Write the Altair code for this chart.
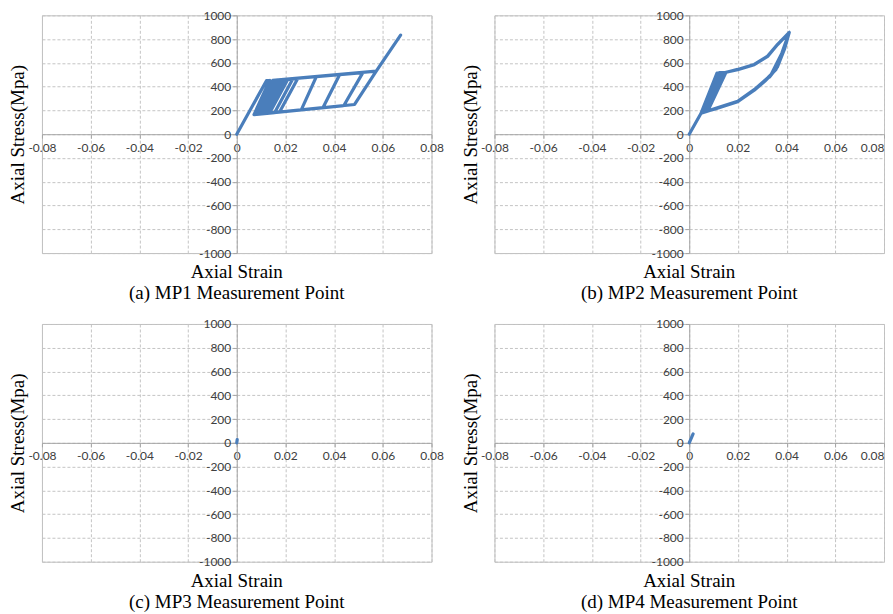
import altair as alt
import pandas as pd

# ---------------- data ----------------
x_ticks = [-0.08, -0.06, -0.04, -0.02, 0, 0.02, 0.04, 0.06, 0.08]
y_ticks = [-1000, -800, -600, -400, -200, 0, 200, 400, 600, 800, 1000]

captions = ["(a) MP1 Measurement Point", "(b) MP2 Measurement Point",
            "(c) MP3 Measurement Point", "(d) MP4 Measurement Point"]

strain_a = [0, 0.0122, 0.0135, 0.0071, 0.0148, 0.0160, 0.0084, 0.0071, 0.0148, 0.0170,
            0.0094, 0.0071, 0.0148, 0.0180, 0.0105, 0.0071, 0.0148, 0.0195, 0.0120, 0.0071,
            0.0148, 0.0210, 0.0135, 0.0071, 0.0148, 0.0230, 0.0156, 0.0071, 0.0148, 0.0250,
            0.0176, 0.0071, 0.0148, 0.0327, 0.0265, 0.0071, 0.0148, 0.0423, 0.0354, 0.0071,
            0.0148, 0.0518, 0.0440, 0.0071, 0.0148, 0.0573, 0.0484, 0.0071, 0.0484, 0.0573,
            0.0673]
stress_a = [0, 450, 452, 165, 453, 455, 168, 165, 453, 457,
            170, 165, 453, 458, 172, 165, 453, 460, 175, 165,
            453, 462, 178, 165, 453, 465, 182, 165, 453, 467,
            187, 165, 453, 484, 205, 165, 453, 502, 223, 165,
            453, 518, 241, 165, 453, 530, 250, 165, 250, 530,
            834]

strain_b = [0, 0.0048, 0.0114, 0.0151, 0.0199, 0.0267, 0.0322, 0.0363, 0.0411,
            0.0390, 0.0356, 0.0322, 0.0267, 0.0199, 0.0103, 0.0055,
            0.0124, 0.0151, 0.0199, 0.0267, 0.0322, 0.0363, 0.0411,
            0.0385, 0.0345, 0.0322, 0.0267, 0.0199, 0.0103, 0.0065,
            0.0136, 0.0153, 0.0199, 0.0267, 0.0322, 0.0363, 0.0411,
            0.0380, 0.0336, 0.0310, 0.0267, 0.0199, 0.0103, 0.0076,
            0.0151, 0.0199, 0.0267, 0.0322, 0.0363, 0.0411,
            0.0392, 0.0362, 0.0330]
stress_b = [0, 174, 515, 521, 543, 585, 655, 754, 857,
            712, 543, 473, 375, 277, 213, 180,
            518, 521, 543, 585, 655, 754, 857,
            690, 520, 470, 372, 275, 212, 187,
            519, 521, 545, 587, 657, 756, 857,
            680, 500, 445, 370, 273, 211, 195,
            521, 544, 586, 656, 755, 857,
            720, 565, 480]

strain_c = [0, 0.0001, 0.0002]
stress_c = [0, 14, 28]

strain_d = [0, 0.0008, 0.0016]
stress_d = [0, 38, 75]

# ---------------- styling ----------------
LINE = "#4a7ebb"
W, H = 390, 238
SERIF = "Liberation Serif"

x_label_expr = ("datum.value == 0 ? '0' : (datum.value < 0 ? '-' : '') + "
                "format(abs(datum.value), '.2~f')")
y_label_expr = "(datum.value < 0 ? '-' : '') + format(abs(datum.value), 'd')"


def panel(strain, stress, caption, right=False):
    df = pd.DataFrame({"idx": list(range(len(strain))), "strain": strain, "stress": stress})
    xaxis_kw = dict(
        orient="bottom", offset=-H / 2, values=x_ticks, title=None,
        labelExpr=x_label_expr, labelPadding=4,
    )
    if right:
        xaxis_kw["labelAlign"] = {"expr": "datum.value > 0.079 ? 'right' : 'center'"}
    yaxis = alt.Axis(
        orient="left", offset=-W / 2, values=y_ticks, title="Axial Stress(Mpa)",
        labelExpr=y_label_expr, labelPadding=2,
        titleX=-W / 2 - 18, titleY=H / 2, titleAngle=270, titleAlign="center",
        titleBaseline="alphabetic", titleFont=SERIF, titleFontSize=19,
        titleFontWeight="normal", titleColor="black",
    )
    return (
        alt.Chart(df)
        .mark_line(color=LINE, strokeWidth=3.2, strokeJoin="round", strokeCap="round")
        .encode(
            x=alt.X("strain:Q", scale=alt.Scale(domain=[-0.08, 0.08], nice=False, zero=False),
                    axis=alt.Axis(**xaxis_kw)),
            y=alt.Y("stress:Q", scale=alt.Scale(domain=[-1000, 1000], nice=False, zero=False),
                    axis=yaxis),
            order=alt.Order("idx:Q"),
        )
        .properties(
            width=W, height=H,
            title=alt.Title(
                text=["Axial Strain", caption], orient="bottom", anchor="middle",
                frame="group", offset=4, font=SERIF, fontSize=19, fontWeight="normal",
                color="black", lineHeight=21, baseline="top",
            ),
        )
    )


chart = (
    alt.concat(
        panel(strain_a, stress_a, captions[0]),
        panel(strain_b, stress_b, captions[1], right=True),
        panel(strain_c, stress_c, captions[2]),
        panel(strain_d, stress_d, captions[3], right=True),
        columns=2,
        spacing={"row": 71, "column": 63},
        bounds="flush",
    )
    .properties(padding={"left": 0, "top": 0, "right": 0, "bottom": 0})
    .configure_view(stroke="#bfbfbf", strokeWidth=1)
    .configure_axis(
        grid=True, gridColor="#c4c4c4", gridDash=[3, 2], gridWidth=1,
        domainColor="#a6a6a6", domainWidth=1,
        tickColor="#a6a6a6", tickSize=4,
        labelFont="Lato", labelFontSize=12, labelColor="#404040",
        labelOverlap=False, labelFlush=False,
    )
)

chart.save("out.html", embed_options={"renderer": "svg", "actions": False})
